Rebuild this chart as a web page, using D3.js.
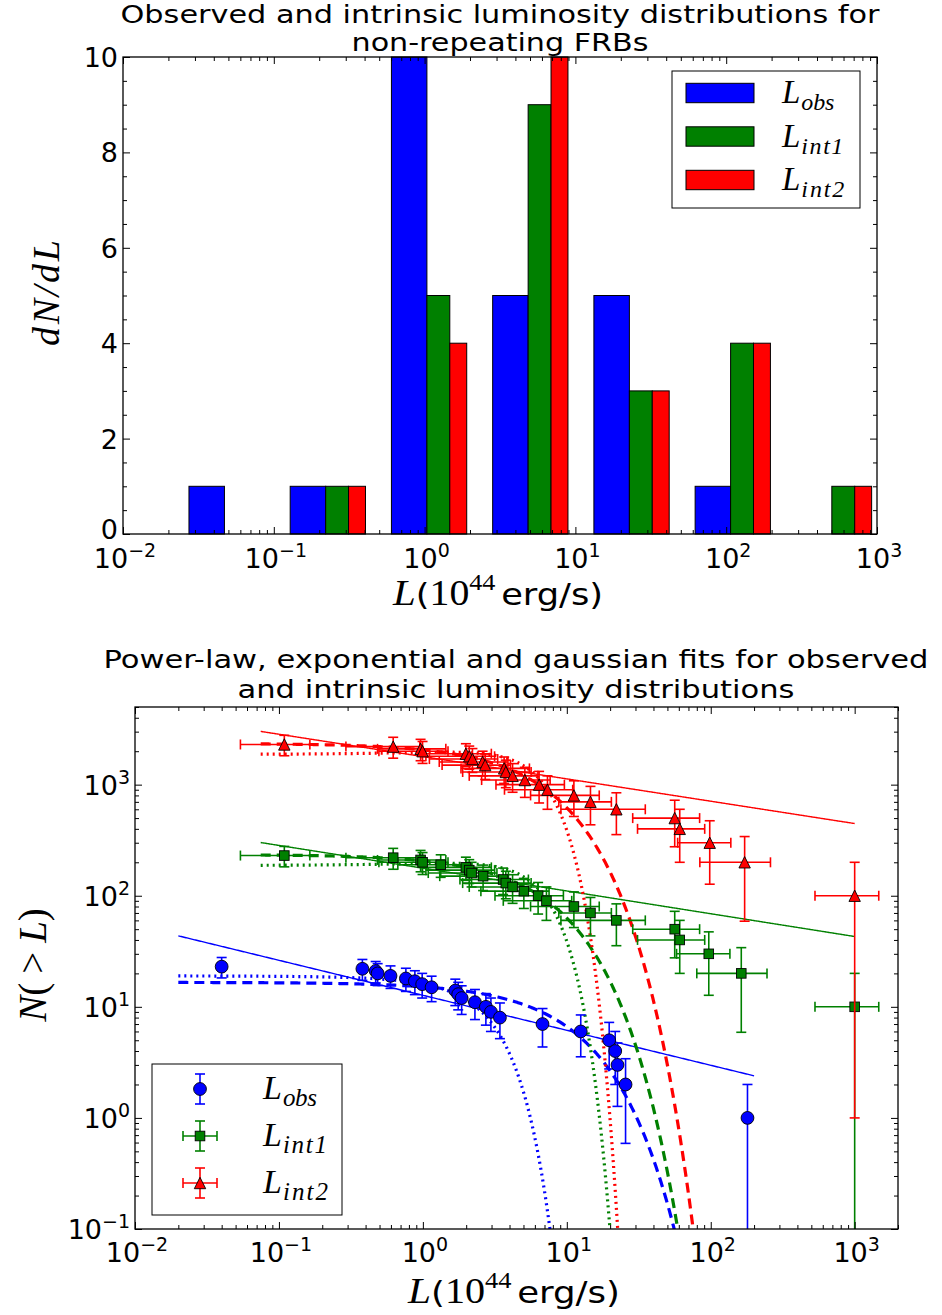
<!DOCTYPE html>
<html>
<head>
<meta charset="utf-8">
<script src="https://cdn.jsdelivr.net/npm/d3@7"></script>
<style>
  body { margin: 0; background: #fff; }
  svg text { fill: #000; }
</style>
</head>
<body>
<svg id="fig" width="942" height="1315"></svg>
<script>
// ---------------- histogram (top panel) ----------------
const binEdges   = [0.02, 0.0938, 0.4401, 2.065, 9.687, 45.45, 213.2, 1000];
const countsObs  = [1, 1, 10, 5, 5, 1, 0];
const countsInt1 = [0, 1, 5, 9, 3, 4, 1];
const countsInt2 = [0, 1, 4, 10, 3, 4, 1];

// ---------------- cumulative counts (bottom panel) ----------------
const nObs  = [23,22,21,20,19,18,17,16,15,14,13,12,11,10,9,8,7,6,5,4,3,2,1];
const nInt1 = [230,220,210,200,190,180,170,160,150,140,130,120,110,100,90,80,70,60,50,40,30,20,10];
const nInt2 = [2300,2200,2100,2000,1900,1800,1700,1600,1500,1400,1300,1200,1100,1000,900,800,700,600,500,400,300,200,100];

const errObs  = [4.80,4.69,4.58,4.47,4.36,4.24,4.12,4.00,3.87,3.74,3.61,3.46,3.32,3.16,3.00,2.83,2.65,2.45,2.24,2.00,1.73,1.41,1.00];
const errInt1 = [48.0,46.9,45.8,44.7,43.6,42.4,41.2,40.0,38.7,37.4,36.1,34.6,33.2,31.6,30.0,28.3,26.5,24.5,22.4,20.0,17.3,14.1,10.0];
const errInt2 = [480,469,458,447,436,424,412,400,387,374,361,346,332,316,300,283,265,245,224,200,173,141,100];

const lObs  = [0.040,0.380,0.470,0.485,0.596,0.762,0.880,0.989,1.15,1.68,1.76,1.86,2.30,2.74,2.97,3.43,6.78,12.5,19.7,21.7,22.5,25.6,180];
const lInt1 = [0.109,0.622,0.964,0.995,1.33,1.99,2.10,2.18,2.62,3.61,3.77,4.20,5.03,6.32,7.22,11.2,14.6,22.1,56.2,60.9,96.9,163,1000];
const lInt2 = [0.109,0.622,0.964,0.995,1.99,2.10,2.21,2.60,2.71,3.67,3.77,4.20,5.11,6.42,7.34,11.2,14.6,22.1,56.2,60.9,98.4,172,1000];

const xErrInt1 = [0.055,0.33,0.48,0.50,0.66,1.00,1.05,1.09,1.31,1.80,1.88,2.10,2.50,3.15,3.60,5.6,5.8,13.0,27.5,29.9,39.0,83,470];
const xErrInt2 = [0.055,0.33,0.48,0.50,1.00,1.05,1.10,1.30,1.35,1.83,1.88,2.10,2.55,3.20,3.65,5.6,5.8,13.0,27.5,29.9,39.5,88,470];

// lower end of a y error bar when N - err is not positive
const yFloorObs = 0.1, yFloorInt1 = 0.1, yFloorInt2 = 1;

// ---------------- fitted models ----------------
// power law  N = amp * L^index
const powObs  = { amp: 12.7, index: -0.315, from: 0.02,   to: 200  };
const powInt1 = { amp: 177,  index: -0.205, from: 0.0747, to: 1000 };
const powInt2 = { amp: 1790, index: -0.201, from: 0.0747, to: 1000 };
// exponential  N = amp * exp(-L / scale)
const expObs  = { amp: 16.6, scale: 10.9, from: 0.02,   to: 200  };
const expInt1 = { amp: 235,  scale: 7.6,  from: 0.0747, to: 1000 };
const expInt2 = { amp: 2350, scale: 7.5,  from: 0.0747, to: 1000 };
// gaussian  N = amp * exp(-(L - mu)^2 / (2 sigma^2))
const gauObs  = { amp: 19.5, mu: -0.58, sigma: 2.53, from: 0.02,   to: 200  };
const gauInt1 = { amp: 196,  mu: 1.45,  sigma: 4.75, from: 0.0747, to: 1000 };
const gauInt2 = { amp: 1960, mu: 1.45,  sigma: 4.75, from: 0.0747, to: 1000 };

const legendSubs = [
  { sub: "obs",  top: 33, bottom: 34 },
  { sub: "int1", top: 42, bottom: 44 },
  { sub: "int2", top: 43, bottom: 45 }
];

const BLUE = "#0000ff", GREEN = "#008000", RED = "#ff0000";
const SANS = "'DejaVu Sans', sans-serif";
const SERIF = "'Liberation Serif', 'DejaVu Serif', serif";
const MINUS = "\u2212";

const svg = d3.select("#fig");

function logTicks(dom) {
  const majors = [], minors = [];
  const e0 = Math.floor(Math.log10(dom[0])), e1 = Math.ceil(Math.log10(dom[1]));
  for (let e = e0; e <= e1; e++) {
    for (let m = 1; m < 10; m++) {
      const v = m * Math.pow(10, e);
      if (v < dom[0] * 0.9999 || v > dom[1] * 1.0001) continue;
      (m === 1 ? majors : minors).push(v);
    }
  }
  return { majors, minors };
}
const expText = v => { const e = Math.round(Math.log10(v)); return e < 0 ? MINUS + (-e) : String(e); };

// inward ticks on all four sides, drawn with d3 axes
function frameTicks(g, x, y, xt, yt, box, sizes) {
  const [L, T, R, B] = box;
  const mk = (axisFn, scale, vals, size, tx, ty) => {
    g.append("g").attr("transform", `translate(${tx},${ty})`)
      .call(axisFn(scale).tickValues(vals).tickSize(-size).tickFormat(""))
      .call(s => s.select(".domain").remove())
      .call(s => s.selectAll("line").attr("stroke", "#000").attr("stroke-width", 1));
  };
  mk(d3.axisBottom, x, xt.majors, sizes[0], 0, B);
  mk(d3.axisBottom, x, xt.minors, sizes[1], 0, B);
  mk(d3.axisTop, x, xt.majors, sizes[0], 0, T);
  mk(d3.axisTop, x, xt.minors, sizes[1], 0, T);
  mk(d3.axisLeft, y, yt.majors, sizes[0], L, 0);
  mk(d3.axisLeft, y, yt.minors, sizes[1], L, 0);
  mk(d3.axisRight, y, yt.majors, sizes[0], R, 0);
  mk(d3.axisRight, y, yt.minors, sizes[1], R, 0);
  g.append("rect").attr("x", L).attr("y", T).attr("width", R - L).attr("height", B - T)
    .attr("fill", "none").attr("stroke", "#000").attr("stroke-width", 1.3);
}

function powLabel(g, px, py, exp, anchor) {
  const t = g.append("text").attr("x", px).attr("y", py).attr("text-anchor", anchor)
    .attr("font-family", SANS).attr("font-size", 27);
  t.append("tspan").text("10");
  t.append("tspan").attr("font-size", 19).attr("dy", -11).text(exp);
  return t;
}

// two-line centred title kept in one text element
function titleBlock(g, cx, lines, size) {
  const t = g.append("text").attr("text-anchor", "middle")
    .attr("font-family", SANS).attr("font-size", size);
  lines.forEach(l => {
    t.append("tspan").attr("x", cx).attr("y", l.y)
      .attr("textLength", l.w).attr("lengthAdjust", "spacingAndGlyphs").text(l.t);
  });
}

function lumLabel(g, cx, by, width) {
  const t = g.append("text").attr("x", cx).attr("y", by).attr("text-anchor", "middle")
    .attr("textLength", width).attr("lengthAdjust", "spacingAndGlyphs");
  t.append("tspan").attr("font-family", SERIF).attr("font-style", "italic").attr("font-size", 36).text("L");
  t.append("tspan").attr("font-family", SANS).attr("font-size", 31).text("(");
  t.append("tspan").attr("font-family", SERIF).attr("font-size", 35).text("10");
  t.append("tspan").attr("font-family", SERIF).attr("font-size", 23).attr("dy", -15).text("44");
  t.append("tspan").attr("font-family", SANS).attr("font-size", 31).attr("dy", 15).attr("dx", 5).text("erg/s)");
}

function mathLabel(t, base, sub, size, subSize, subWidth) {
  t.append("tspan").attr("font-family", SERIF).attr("font-style", "italic").attr("font-size", size).text(base);
  t.append("tspan").attr("font-family", SERIF).attr("font-style", "italic").attr("font-size", subSize)
    .attr("dx", 1).attr("dy", size * 0.22)
    .attr("textLength", subWidth).attr("lengthAdjust", "spacing").text(sub);
}

// =============== top panel ===============
{
  const box = [123, 57, 877, 534];
  const g = svg.append("g");
  const x = d3.scaleLog().domain([0.01, 1000]).range([box[0], box[2]]);
  const y = d3.scaleLinear().domain([0, 10]).range([box[3], box[1]]);

  titleBlock(g, 500, [
    { t: "Observed and intrinsic luminosity distributions for", y: 23, w: 759 },
    { t: "non-repeating FRBs", y: 51, w: 297 }
  ], 24);

  const series = [
    { c: countsObs, col: BLUE }, { c: countsInt1, col: GREEN }, { c: countsInt2, col: RED }
  ];
  const bars = g.append("g");
  series.forEach((s, k) => {
    s.c.forEach((n, i) => {
      if (n <= 0) return;
      const a = binEdges[i], b = binEdges[i + 1], w = b - a;
      const x0 = a + 0.1 * w + k * (0.8 * w / 3), x1 = x0 + 0.8 * w / 3;
      bars.append("rect").attr("x", x(x0)).attr("y", y(n))
        .attr("width", x(x1) - x(x0)).attr("height", y(0) - y(n))
        .attr("fill", s.col).attr("stroke", "#000").attr("stroke-width", 1);
    });
  });

  const xt = logTicks([0.01, 1000]);
  const yt = { majors: d3.range(0, 10.01, 2), minors: d3.range(0.5, 10, 0.5).filter(v => v % 2 !== 0) };
  frameTicks(g, x, y, xt, yt, box, [7, 4]);

  xt.majors.forEach(v => powLabel(g, x(v) + 2, box[3] + 34, expText(v), "middle"));
  yt.majors.forEach(v => g.append("text").attr("x", box[0] - 5).attr("y", y(v) + (v === 0 ? 5 : 10))
    .attr("text-anchor", "end").attr("font-family", SANS).attr("font-size", 27).text(v));

  lumLabel(g, 498, 605, 210);

  g.append("text").attr("transform", "translate(59,293) rotate(-90)")
    .attr("text-anchor", "middle").attr("font-family", SERIF).attr("font-style", "italic")
    .attr("font-size", 38).attr("textLength", 106).attr("lengthAdjust", "spacing").text("dN/dL");

  // legend
  const lg = g.append("g");
  lg.append("rect").attr("x", 672).attr("y", 71).attr("width", 188).attr("height", 137)
    .attr("fill", "#fff").attr("stroke", "#000").attr("stroke-width", 1);
  [BLUE, GREEN, RED].forEach((col, i) => {
    const cy = 93 + i * 43.5;
    lg.append("rect").attr("x", 686).attr("y", cy - 9.7).attr("width", 68).attr("height", 19.4)
      .attr("fill", col).attr("stroke", "#000").attr("stroke-width", 1);
    const t = lg.append("text").attr("x", 782).attr("y", cy + 10);
    mathLabel(t, "L", legendSubs[i].sub, 33, 24, legendSubs[i].top);
  });
}

// =============== bottom panel ===============
{
  const box = [135, 707, 898, 1229];
  const g = svg.append("g");
  const x = d3.scaleLog().domain([0.01, 2000]).range([box[0], box[2]]);
  const y = d3.scaleLog().domain([0.1, 5000]).range([box[3], box[1]]);

  titleBlock(g, 516, [
    { t: "Power-law, exponential and gaussian fits for observed", y: 668, w: 825 },
    { t: "and intrinsic luminosity distributions", y: 698, w: 557 }
  ], 24);

  const clipId = "plotclip";
  svg.append("clipPath").attr("id", clipId).append("rect")
    .attr("x", box[0]).attr("y", box[1]).attr("width", box[2] - box[0]).attr("height", box[3] - box[1]);
  const plot = g.append("g").attr("clip-path", `url(#${clipId})`);

  const line = d3.line().x(d => x(d[0])).y(d => y(Math.max(d[1], 1e-4)));
  const sample = (f, from, to) => {
    const lo = Math.log10(from), hi = Math.log10(to), pts = [];
    for (let i = 0; i <= 600; i++) { const L = Math.pow(10, lo + (hi - lo) * i / 600); pts.push([L, f(L)]); }
    return pts;
  };
  const fits = [
    [powObs, expObs, gauObs, BLUE], [powInt1, expInt1, gauInt1, GREEN], [powInt2, expInt2, gauInt2, RED]
  ];
  fits.forEach(([p, e, q, col]) => {
    plot.append("path").attr("d", line(sample(L => p.amp * Math.pow(L, p.index), p.from, p.to)))
      .attr("fill", "none").attr("stroke", col).attr("stroke-width", 1.4);
    plot.append("path").attr("d", line(sample(L => e.amp * Math.exp(-L / e.scale), e.from, e.to)))
      .attr("fill", "none").attr("stroke", col).attr("stroke-width", 3.2).attr("stroke-dasharray", "10,6");
    plot.append("path").attr("d", line(sample(L => q.amp * Math.exp(-Math.pow(L - q.mu, 2) / (2 * q.sigma * q.sigma)), q.from, q.to)))
      .attr("fill", "none").attr("stroke", col).attr("stroke-width", 3.2).attr("stroke-dasharray", "2,4");
  });

  const marker = (sel, kind, col, cx, cy) => {
    if (kind === "o") sel.append("circle").attr("cx", cx).attr("cy", cy).attr("r", 6.4)
      .attr("fill", col).attr("stroke", "#000").attr("stroke-width", 0.9);
    else if (kind === "s") sel.append("rect").attr("x", cx - 4.8).attr("y", cy - 4.8).attr("width", 9.6).attr("height", 9.6)
      .attr("fill", col).attr("stroke", "#000").attr("stroke-width", 0.9);
    else sel.append("path").attr("d", `M${cx},${cy - 5.7}L${cx + 5.7},${cy + 5.7}L${cx - 5.7},${cy + 5.7}Z`)
      .attr("fill", col).attr("stroke", "#000").attr("stroke-width", 0.9);
  };

  const errSeries = [
    { L: lObs, N: nObs, ey: errObs, ex: null, floor: yFloorObs, col: BLUE, m: "o" },
    { L: lInt1, N: nInt1, ey: errInt1, ex: xErrInt1, floor: yFloorInt1, col: GREEN, m: "s" },
    { L: lInt2, N: nInt2, ey: errInt2, ex: xErrInt2, floor: yFloorInt2, col: RED, m: "^" }
  ];
  const cap = 5;
  errSeries.forEach(s => {
    const eg = plot.append("g").attr("stroke", s.col).attr("stroke-width", 1.6);
    s.L.forEach((L, i) => {
      const cx = x(L), cy = y(s.N[i]);
      const hiV = s.N[i] + s.ey[i], loV = s.N[i] - s.ey[i];
      const yHi = y(hiV), yLo = loV > 0 ? y(loV) : (s.floor > 0.1 ? y(s.floor) : box[3] + 20);
      eg.append("line").attr("x1", cx).attr("x2", cx).attr("y1", yHi).attr("y2", yLo);
      eg.append("line").attr("x1", cx - cap).attr("x2", cx + cap).attr("y1", yHi).attr("y2", yHi);
      eg.append("line").attr("x1", cx - cap).attr("x2", cx + cap).attr("y1", yLo).attr("y2", yLo);
      if (s.ex) {
        const xl = x(L - s.ex[i]), xr = x(L + s.ex[i]);
        eg.append("line").attr("x1", xl).attr("x2", xr).attr("y1", cy).attr("y2", cy);
        eg.append("line").attr("x1", xl).attr("x2", xl).attr("y1", cy - cap).attr("y2", cy + cap);
        eg.append("line").attr("x1", xr).attr("x2", xr).attr("y1", cy - cap).attr("y2", cy + cap);
      }
    });
    const mg = plot.append("g");
    s.L.forEach((L, i) => marker(mg, s.m, s.col, x(L), y(s.N[i])));
  });

  const xt = logTicks([0.01, 2000]);
  const yt = logTicks([0.1, 5000]);
  frameTicks(g, x, y, xt, yt, box, [7, 4]);

  xt.majors.forEach(v => powLabel(g, x(v) + 2, box[3] + 33, expText(v), "middle"));
  yt.majors.forEach(v => powLabel(g, box[0] - 5, y(v) + 10, expText(v), "end"));

  lumLabel(g, 514, 1303, 212);

  const yl = g.append("text").attr("transform", "translate(46,965) rotate(-90)")
    .attr("text-anchor", "middle").attr("font-family", SERIF).attr("font-size", 39);
  yl.append("tspan").attr("font-style", "italic").text("N");
  yl.append("tspan").text("(");
  yl.append("tspan").attr("dx", 9).text(">");
  yl.append("tspan").attr("dx", 9).attr("font-style", "italic").text("L");
  yl.append("tspan").text(")");

  // legend
  const lg = g.append("g");
  lg.append("rect").attr("x", 152).attr("y", 1064).attr("width", 190).attr("height", 151)
    .attr("fill", "#fff").attr("stroke", "#000").attr("stroke-width", 1);
  [[BLUE, "o", false], [GREEN, "s", true], [RED, "^", true]].forEach(([col, m, hx], i) => {
    const cy = 1089 + i * 47;
    const eg = lg.append("g").attr("stroke", col).attr("stroke-width", 1.6);
    eg.append("line").attr("x1", 200).attr("x2", 200).attr("y1", cy - 15).attr("y2", cy + 15);
    eg.append("line").attr("x1", 195).attr("x2", 205).attr("y1", cy - 15).attr("y2", cy - 15);
    eg.append("line").attr("x1", 195).attr("x2", 205).attr("y1", cy + 15).attr("y2", cy + 15);
    if (hx) {
      eg.append("line").attr("x1", 183).attr("x2", 217).attr("y1", cy).attr("y2", cy);
      eg.append("line").attr("x1", 183).attr("x2", 183).attr("y1", cy - 5).attr("y2", cy + 5);
      eg.append("line").attr("x1", 217).attr("x2", 217).attr("y1", cy - 5).attr("y2", cy + 5);
    }
    marker(lg, m, col, 200, cy);
    const t = lg.append("text").attr("x", 263).attr("y", cy + 10);
    mathLabel(t, "L", legendSubs[i].sub, 34, 25, legendSubs[i].bottom);
  });
}
</script>
</body>
</html>
